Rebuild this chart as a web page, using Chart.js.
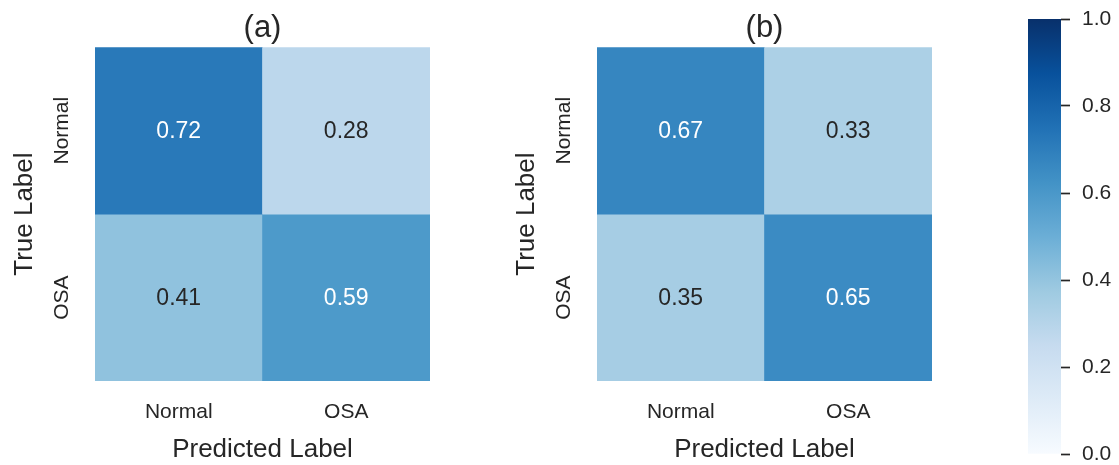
<!DOCTYPE html>
<html>
<head>
<meta charset="utf-8">
<script src="https://cdn.jsdelivr.net/npm/chart.js@4/dist/chart.umd.min.js"></script>
<style>
  html, body { margin: 0; padding: 0; background: #ffffff; }
  #stage { position: relative; width: 1119px; height: 465px; overflow: hidden; }
  .panel { position: absolute; top: 0; height: 465px; }
  #panelA { left: 0; width: 450px; }
  #panelB { left: 502px; width: 450px; }
  #panelBar { left: 1000px; width: 119px; }
</style>
</head>
<body>
<div id="stage">
  <div class="panel" id="panelA"><canvas id="cmA"></canvas></div>
  <div class="panel" id="panelB"><canvas id="cmB"></canvas></div>
  <div class="panel" id="panelBar"><canvas id="cbar"></canvas></div>
</div>
<script>
// ---- data ----
const predictedLabels = ['Normal', 'OSA'];
const trueLabels = ['Normal', 'OSA'];
const matrixA = [
  [0.72, 0.28],
  [0.41, 0.59]
];
const matrixB = [
  [0.67, 0.33],
  [0.35, 0.65]
];
const panelTitles = ['(a)', '(b)'];
const colorbarRange = [0, 1];
const colorbarStep = 0.2;

// ---- styling ----
const FONT = '"Liberation Sans", Arial, Helvetica, sans-serif';
const INK = '#262626';

// matplotlib "Blues" colormap anchor colours
const BLUES = ['#f7fbff', '#deebf7', '#c6dbef', '#9ecae1', '#6baed6',
               '#4292c6', '#2171b5', '#08519c', '#08306b'];

function hexToRgb(h) {
  return [parseInt(h.slice(1, 3), 16), parseInt(h.slice(3, 5), 16), parseInt(h.slice(5, 7), 16)];
}
function bluesRgb(v) {
  const t = Math.max(0, Math.min(1, (v - colorbarRange[0]) / (colorbarRange[1] - colorbarRange[0])));
  const pos = t * (BLUES.length - 1);
  const i = Math.min(BLUES.length - 2, Math.floor(pos));
  const f = pos - i;
  const a = hexToRgb(BLUES[i]), b = hexToRgb(BLUES[i + 1]);
  return a.map((c, k) => Math.round(c + (b[k] - c) * f));
}
function bluesCss(v) {
  const c = bluesRgb(v);
  return 'rgb(' + c.join(',') + ')';
}
function luminance(rgb) {
  const lin = rgb.map(c => {
    c /= 255;
    return c <= 0.03928 ? c / 12.92 : Math.pow((c + 0.055) / 1.055, 2.4);
  });
  return 0.2126 * lin[0] + 0.7152 * lin[1] + 0.0722 * lin[2];
}

// writes each cell's value in its centre
const cellValues = {
  id: 'cellValues',
  afterDatasetsDraw(chart) {
    const ctx = chart.ctx;
    ctx.save();
    ctx.font = '23px ' + FONT;
    ctx.textAlign = 'center';
    ctx.textBaseline = 'middle';
    chart.data.datasets.forEach((ds, di) => {
      const meta = chart.getDatasetMeta(di);
      meta.data.forEach((bar, ci) => {
        const v = ds.cellValues[ci];
        const p = bar.getCenterPoint();
        ctx.fillStyle = luminance(bluesRgb(v)) > 0.408 ? INK : '#ffffff';
        ctx.fillText(v.toFixed(2), p.x, p.y + 1);
      });
    });
    ctx.restore();
  }
};

function confusionChart(canvasId, matrix, title) {
  // one floating-bar dataset per true-label row, spanning [row, row + 1]
  const datasets = trueLabels.map((rowLabel, r) => ({
    label: rowLabel,
    data: predictedLabels.map(() => [r, r + 1]),
    cellValues: matrix[r],
    backgroundColor: matrix[r].map(bluesCss),
    borderWidth: 0,
    borderSkipped: false,
    categoryPercentage: 1,
    barPercentage: 1
  }));

  return new Chart(document.getElementById(canvasId), {
    type: 'bar',
    data: { labels: predictedLabels, datasets },
    plugins: [cellValues],
    options: {
      responsive: true,
      maintainAspectRatio: false,
      animation: false,
      layout: { padding: { left: 0, top: 0, right: 20, bottom: 0 } },
      plugins: {
        legend: { display: false },
        tooltip: { enabled: false },
        title: {
          display: true,
          text: title,
          fullSize: false,
          color: INK,
          font: { family: FONT, size: 31, weight: 'normal' },
          padding: { top: 10, bottom: 0 }
        }
      },
      scales: {
        x: {
          type: 'category',
          stacked: true,
          grid: { display: false, drawTicks: false },
          border: { display: false },
          ticks: { color: INK, font: { family: FONT, size: 21 }, padding: 19, maxRotation: 0 },
          title: {
            display: true,
            text: 'Predicted Label',
            color: INK,
            font: { family: FONT, size: 26 },
            padding: { top: 0, bottom: 0 }
          },
          afterFit(scale) { scale.height = 84; }
        },
        y: {
          type: 'linear',
          stacked: false,
          min: 0,
          max: trueLabels.length,
          reverse: true,
          grid: { display: false, drawTicks: false },
          border: { display: false },
          afterBuildTicks(scale) {
            scale.ticks = trueLabels.map((_, i) => ({ value: i + 0.5 }));
          },
          ticks: {
            color: INK,
            font: { family: FONT, size: 21 },
            padding: -1,
            minRotation: 90,
            maxRotation: 90,
            crossAlign: 'center',
            callback: (value, index) => trueLabels[index]
          },
          title: {
            display: true,
            text: 'True Label',
            color: INK,
            font: { family: FONT, size: 26 },
            padding: { top: 9, bottom: 0 }
          },
          afterFit(scale) { scale.width = 95; }
        }
      }
    }
  });
}

confusionChart('cmA', matrixA, panelTitles[0]);
confusionChart('cmB', matrixB, panelTitles[1]);

// colour bar: a single floating bar over the full value range, filled with the colormap
new Chart(document.getElementById('cbar'), {
  type: 'bar',
  data: {
    labels: [''],
    datasets: [{
      data: [colorbarRange],
      borderWidth: 0,
      borderSkipped: false,
      categoryPercentage: 1,
      barPercentage: 1,
      backgroundColor(context) {
        const chart = context.chart;
        const y = chart.scales.y;
        if (!chart.chartArea || !y) return BLUES[4];
        const g = chart.ctx.createLinearGradient(0, y.getPixelForValue(colorbarRange[0]), 0, y.getPixelForValue(colorbarRange[1]));
        BLUES.forEach((c, i) => g.addColorStop(i / (BLUES.length - 1), c));
        return g;
      }
    }]
  },
  options: {
    responsive: true,
    maintainAspectRatio: false,
    animation: false,
    layout: { padding: { left: 28, top: 19, right: 0, bottom: 11 } },
    plugins: { legend: { display: false }, tooltip: { enabled: false } },
    scales: {
      x: { type: 'category', display: false },
      y: {
        type: 'linear',
        position: 'right',
        min: colorbarRange[0],
        max: colorbarRange[1],
        border: { display: false },
        grid: {
          drawOnChartArea: false,
          drawTicks: true,
          tickLength: 9,
          tickColor: INK,
          tickWidth: 1.7
        },
        ticks: {
          stepSize: colorbarStep,
          color: INK,
          font: { family: FONT, size: 21 },
          padding: 12,
          callback: v => Number(v).toFixed(1)
        },
        afterFit(scale) {
          scale.width = 58;
          // end labels may overhang the bar; the outer padding already leaves room
          scale.paddingTop = 0;
          scale.paddingBottom = 0;
        }
      }
    }
  }
});
</script>
</body>
</html>
